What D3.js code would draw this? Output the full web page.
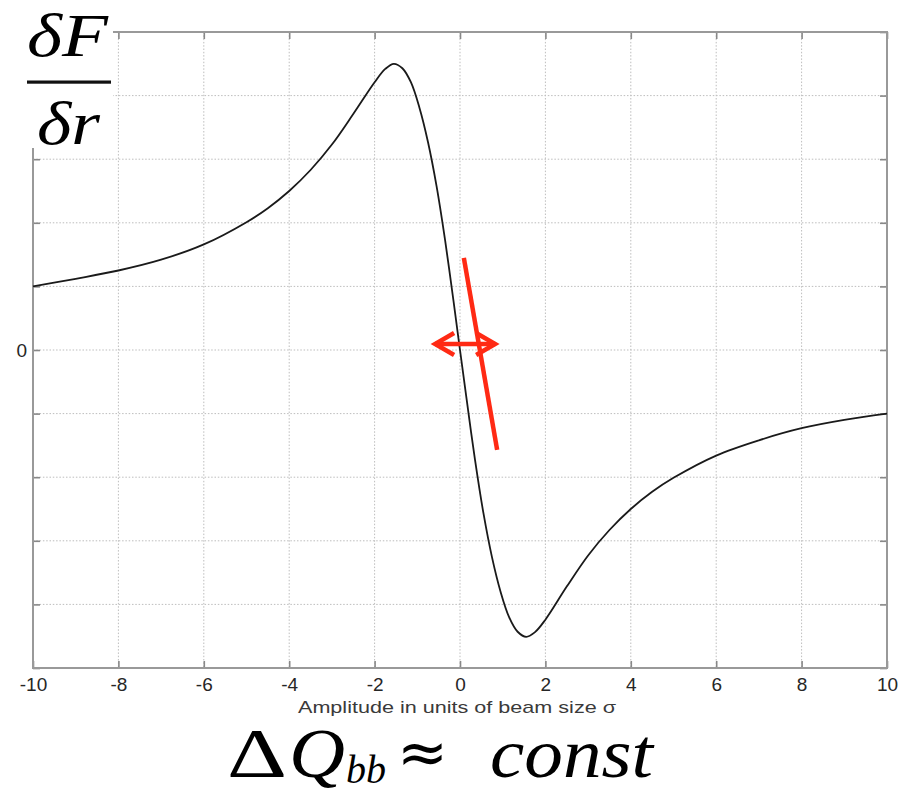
<!DOCTYPE html>
<html>
<head>
<meta charset="utf-8">
<script src="https://cdn.jsdelivr.net/npm/d3@7"></script>
<style>
  html, body { margin: 0; padding: 0; background: #fff; }
  svg { display: block; }
</style>
</head>
<body>
<script>
// Beam-beam force slope vs. amplitude (in units of sigma)
const amplitude = [-10, -9, -8, -7, -6, -5, -4.5, -4, -3.5, -3, -2.5, -2, -1.75, -1.55, -1.35, -1.15, -0.95, -0.75, -0.55, -0.35, -0.15, 0,
                   0.15, 0.35, 0.55, 0.75, 0.95, 1.15, 1.35, 1.55, 1.75, 2, 2.5, 3, 3.5, 4, 4.5, 5, 6, 7, 8, 9, 10];
const response  = [1.00, 1.12, 1.25, 1.42, 1.66, 2.01, 2.23, 2.50, 2.83, 3.23, 3.71, 4.21, 4.42, 4.50, 4.43, 4.21, 3.81, 3.27, 2.58, 1.73, 0.76, 0,
                   -0.75, -1.72, -2.57, -3.26, -3.80, -4.20, -4.43, -4.51, -4.44, -4.24, -3.72, -3.23, -2.83, -2.50, -2.23, -2.01, -1.66, -1.42, -1.23, -1.10, -1.00];

const xTicks = [-10, -8, -6, -4, -2, 0, 2, 4, 6, 8, 10];
const yTicks = [-5, -4, -3, -2, -1, 0, 1, 2, 3, 4, 5];
const yLabelled = [0];

// red annotation: tilted slope line and horizontal double arrow (data units)
const slopeLine = [[0.09, 1.45], [0.87, -1.57]];
const arrowSpan = [[-0.63, 0.094], [0.87, 0.094]];

const W = 900, H = 792;
const plotL = 33, plotR = 887, plotT = 32, plotB = 668;

const svg = d3.select("body").append("svg").attr("width", W).attr("height", H);

const x = d3.scaleLinear().domain([-10, 10]).range([plotL, plotR]);
const y = d3.scaleLinear().domain([-5, 5]).range([plotB, plotT]);

// dotted grid
const grid = svg.append("g").attr("stroke", "#bdbdbd").attr("stroke-width", 1).attr("stroke-dasharray", "1.5,1.8");
grid.selectAll("line.vx").data(xTicks.slice(1, -1)).join("line")
  .attr("x1", d => x(d)).attr("x2", d => x(d)).attr("y1", plotT).attr("y2", plotB);
grid.selectAll("line.hy").data(yTicks.slice(1, -1)).join("line")
  .attr("y1", d => y(d)).attr("y2", d => y(d)).attr("x1", plotL).attr("x2", plotR);

// axes with inward ticks
const tickFont = "'Liberation Sans', Arial, Helvetica, sans-serif";
function styleAxis(g) {
  g.selectAll(".domain").remove();
  g.selectAll(".tick line").attr("stroke", "#888").attr("stroke-width", 1.6);
  g.selectAll(".tick text").attr("fill", "#262626").attr("font-size", 19).attr("font-family", tickFont);
}
svg.append("g").attr("transform", `translate(0,${plotB})`)
  .call(d3.axisBottom(x).tickValues(xTicks).tickFormat(d => String(d)).tickSizeInner(-7).tickSizeOuter(0).tickPadding(10))
  .call(styleAxis);
svg.append("g").attr("transform", `translate(0,${plotT})`)
  .call(d3.axisTop(x).tickValues(xTicks).tickFormat("").tickSizeInner(-7).tickSizeOuter(0))
  .call(styleAxis);
svg.append("g").attr("transform", `translate(${plotL},0)`)
  .call(d3.axisLeft(y).tickValues(yTicks).tickFormat(d => yLabelled.includes(d) ? String(d) : "").tickSizeInner(-7).tickSizeOuter(0).tickPadding(6))
  .call(styleAxis);
svg.append("g").attr("transform", `translate(${plotR},0)`)
  .call(d3.axisRight(y).tickValues(yTicks).tickFormat("").tickSizeInner(-7).tickSizeOuter(0))
  .call(styleAxis);

// frame
svg.append("rect").attr("x", plotL).attr("y", plotT).attr("width", plotR - plotL).attr("height", plotB - plotT)
  .attr("fill", "none").attr("stroke", "#999").attr("stroke-width", 2);

// curve
const line = d3.line().x((d, i) => x(amplitude[i])).y(d => y(d)).curve(d3.curveCatmullRom.alpha(0.5));
svg.append("path").datum(response).attr("d", line)
  .attr("fill", "none").attr("stroke", "#1a1a1a").attr("stroke-width", 1.8);

// x-axis title
svg.append("text").attr("x", 457).attr("y", 713).attr("text-anchor", "middle")
  .attr("font-family", tickFont).attr("font-size", 17).attr("fill", "#3a3a3a")
  .attr("textLength", 318).attr("lengthAdjust", "spacingAndGlyphs")
  .text("Amplitude in units of beam size σ");

// red annotation
const red = "#ff2a14";
svg.append("line")
  .attr("x1", x(slopeLine[0][0])).attr("y1", y(slopeLine[0][1]))
  .attr("x2", x(slopeLine[1][0])).attr("y2", y(slopeLine[1][1]))
  .attr("stroke", red).attr("stroke-width", 4.5);
const ax0 = x(arrowSpan[0][0]), ax1 = x(arrowSpan[1][0]), ay = y(arrowSpan[0][1]);
svg.append("line").attr("x1", ax0 + 2).attr("x2", ax1 - 2).attr("y1", ay).attr("y2", ay)
  .attr("stroke", red).attr("stroke-width", 4.5);
const head = 21, half = 11;
svg.append("path")
  .attr("d", `M${ax0 + head},${ay - half}L${ax0 + 2},${ay}L${ax0 + head},${ay + half}` +
             `M${ax1 - head},${ay - half}L${ax1 - 2},${ay}L${ax1 - head},${ay + half}`)
  .attr("fill", "none").attr("stroke", red).attr("stroke-width", 4.5).attr("stroke-linejoin", "miter");

// fraction dF/dr in the top-left corner over a white patch
svg.append("rect").attr("x", 0).attr("y", 0).attr("width", 113).attr("height", 148).attr("fill", "#fff");
const mathFont = "'Liberation Serif', 'Times New Roman', serif";
svg.append("text").attr("x", 27).attr("y", 55.5)
  .attr("font-family", mathFont).attr("font-size", 62).attr("font-style", "italic").attr("fill", "#000")
  .attr("textLength", 81).attr("lengthAdjust", "spacingAndGlyphs")
  .text("δF");
svg.append("rect").attr("x", 27).attr("y", 80.5).attr("width", 84).attr("height", 3.2).attr("fill", "#111");
svg.append("text").attr("x", 37).attr("y", 144)
  .attr("font-family", mathFont).attr("font-size", 62).attr("font-style", "italic").attr("fill", "#000")
  .attr("textLength", 63).attr("lengthAdjust", "spacingAndGlyphs")
  .text("δr");

// ΔQ_bb ≈ const
const f = svg.append("g").attr("fill", "#000").attr("font-family", mathFont);
f.append("text").attr("x", 227).attr("y", 776.5).attr("font-size", 70)
  .attr("textLength", 60).attr("lengthAdjust", "spacingAndGlyphs").text("Δ");
f.append("text").attr("x", 289).attr("y", 776.5).attr("font-size", 70).attr("font-style", "italic")
  .attr("textLength", 56).attr("lengthAdjust", "spacingAndGlyphs").text("Q");
f.append("text").attr("x", 346).attr("y", 783).attr("font-size", 40).attr("font-style", "italic")
  .attr("textLength", 40).attr("lengthAdjust", "spacingAndGlyphs").text("bb");
f.append("text").attr("x", 397).attr("y", 773).attr("font-size", 60)
  .attr("font-family", "'DejaVu Sans', sans-serif")
  .attr("textLength", 51).attr("lengthAdjust", "spacingAndGlyphs").text("≈");
f.append("text").attr("x", 490).attr("y", 776.5).attr("font-size", 70).attr("font-style", "italic")
  .attr("textLength", 163).attr("lengthAdjust", "spacingAndGlyphs").text("const");
</script>
</body>
</html>
